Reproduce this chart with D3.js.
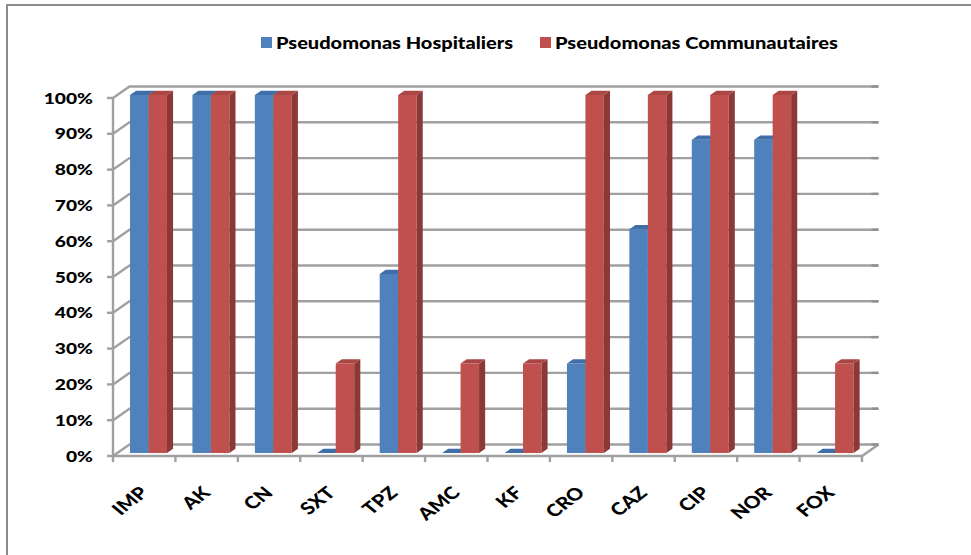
<!DOCTYPE html>
<html>
<head>
<meta charset="utf-8">
<script src="https://cdn.jsdelivr.net/npm/d3@7"></script>
<style>
  html, body { margin: 0; padding: 0; background: #fff; }
  svg { display: block; }
  text { font-family: Lato, "Open Sans", sans-serif; font-weight: bold; fill: #000; }
</style>
</head>
<body>
<svg id="chart" width="971" height="555"></svg>
<script>
// Résistance des souches de Pseudomonas par antibiotique
const categories = ["IMP", "AK", "CN", "SXT", "TPZ", "AMC", "KF", "CRO", "CAZ", "CIP", "NOR", "FOX"];
const seriesNames = ["Pseudomonas Hospitaliers", "Pseudomonas Communautaires"];
const hospitaliers = [1, 1, 1, 0, 0.5, 0, 0, 0.25, 0.625, 0.875, 0.875, 0];
const communautaires = [1, 1, 1, 0.25, 1, 0.25, 0.25, 1, 1, 1, 1, 0.25];
const yTicks = [0, 0.1, 0.2, 0.3, 0.4, 0.5, 0.6, 0.7, 0.8, 0.9, 1];

const svg = d3.select("#chart");
const W = 971, H = 555;

// 3D frame: front plane and depth offset of the back wall
const front = { left: 113, right: 862, bottom: 456, top: 98 };
const depth = { dx: 16.5, dy: -11.5 };
const barDepth = { f0: 0.26, f1: 0.63 };
const stretch = 1.24;

const palette = [
  { front: "#4f81bd", top: "#3f6ea8", side: "#385d8a" },
  { front: "#c0504d", top: "#aa4643", side: "#8b3836" }
];

const x = d3.scaleBand().domain(categories).range([front.left, front.right]).padding(0);
const xs = d3.scaleBand().domain(seriesNames).range([0, x.bandwidth()]).paddingInner(0).paddingOuter(0.69);
const y = d3.scaleLinear().domain([0, 1]).range([front.bottom, front.top]);

const proj = (px, py, f) => [px + f * depth.dx, py + f * depth.dy];

// Outer frame
svg.append("rect")
  .attr("x", 7).attr("y", 5).attr("width", W + 20).attr("height", H + 20)
  .attr("fill", "none").attr("stroke", "#8c8c8c").attr("stroke-width", 2);

const grid = svg.append("g").attr("stroke", "#a0a0a0").attr("stroke-width", 2.4).attr("fill", "none");

// Back-wall gridlines and side-wall diagonals
yTicks.forEach(t => {
  const yf = y(t);
  const [bx, by] = proj(front.left, yf, 1);
  const [rx] = proj(front.right, yf, 1);
  grid.append("path").attr("d", `M${front.left},${yf}L${bx},${by}L${rx},${by}`);
  grid.append("line").attr("x1", front.left - 6).attr("x2", front.left).attr("y1", yf).attr("y2", yf);
  svg.append("line").attr("x1", rx - 7).attr("x2", rx).attr("y1", by).attr("y2", by)
    .attr("stroke", "#8f8f8f").attr("stroke-width", 2.4);
});

// Front vertical axis
grid.append("line").attr("x1", front.left).attr("x2", front.left)
  .attr("y1", y(1)).attr("y2", y(0));

// Floor front edge, right edge and category ticks
{
  const [brx, bry] = proj(front.right, y(0), 1);
  grid.append("path").attr("d", `M${front.left},${y(0)}L${front.right},${y(0)}L${brx},${bry}`);
  const ticks = categories.map(c => x(c)).concat([front.right]);
  ticks.forEach(tx => {
    grid.append("line").attr("x1", tx).attr("x2", tx).attr("y1", y(0)).attr("y2", y(0) + 6);
  });
}

// Bars
const bars = svg.append("g");
categories.forEach((c, i) => {
  [hospitaliers[i], communautaires[i]].forEach((v, s) => {
    const col = palette[s];
    const x0 = x(c) + xs(seriesNames[s]);
    const x1 = x0 + xs.bandwidth();
    const yb = y(0), yt = y(v);
    const p = (px, py, f) => proj(px, py, f).join(",");
    const f0 = barDepth.f0, f1 = barDepth.f1;
    if (v > 0) {
      bars.append("path").attr("fill", col.front)
        .attr("d", `M${p(x0, yb, f0)}L${p(x1, yb, f0)}L${p(x1, yt, f0)}L${p(x0, yt, f0)}Z`);
      bars.append("path").attr("fill", col.side)
        .attr("d", `M${p(x1, yb, f0)}L${p(x1, yb, f1)}L${p(x1, yt, f1)}L${p(x1, yt, f0)}Z`);
    }
    bars.append("path").attr("fill", col.top)
      .attr("d", `M${p(x0, yt, f0)}L${p(x1, yt, f0)}L${p(x1, yt, f1)}L${p(x0, yt, f1)}Z`);
  });
});

// Y-axis labels
const fmt = d3.format(".0%");
svg.append("g").selectAll("text").data(yTicks).join("text")
  .attr("transform", d => `translate(93,${y(d)}) scale(${stretch},1)`)
  .attr("text-anchor", "end").attr("dy", "0.36em")
  .style("font-size", "15.5px").style("font-weight", 900)
  .text(d => fmt(d));

// Category labels
svg.append("g").selectAll("text").data(categories).join("text")
  .attr("transform", d => `translate(${x(d) + x.bandwidth() / 2 + 5},${494}) scale(${stretch},1) rotate(-44)`)
  .attr("text-anchor", "end")
  .style("font-size", "17px").style("font-weight", 900)
  .text(d => d);

// Legend
const legendItems = [
  { x: 261, tx: 276, len: 237 },
  { x: 540, tx: 555, len: 283 }
];
legendItems.forEach((it, s) => {
  svg.append("rect").attr("x", it.x).attr("y", 37).attr("width", 11).attr("height", 11)
    .attr("fill", palette[s].front);
  svg.append("text").attr("x", it.tx).attr("y", 43).attr("dy", "0.36em")
    .attr("textLength", it.len).attr("lengthAdjust", "spacingAndGlyphs")
    .style("font-size", "17px").style("font-weight", 900)
    .text(seriesNames[s]);
});
</script>
</body>
</html>
